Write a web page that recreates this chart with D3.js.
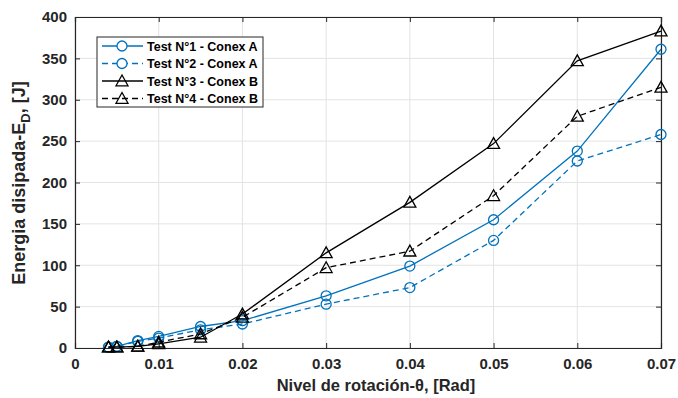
<!DOCTYPE html>
<html>
<head>
<meta charset="utf-8">
<script src="https://cdn.jsdelivr.net/npm/d3@7"></script>
<style>
  body { margin: 0; background: #fff; }
  text { font-family: "Liberation Sans", Arial, sans-serif; }
</style>
</head>
<body>
<div id="chart"></div>
<script>
// data
var rotacion = [0.004, 0.005, 0.0075, 0.01, 0.015, 0.02, 0.03, 0.04, 0.05, 0.06, 0.07];
var test1 = [1, 2, 9, 14, 26, 33, 63, 99, 155, 238, 361];
var test2 = [1, 2, 8, 12, 22, 29, 53, 73, 130, 226, 258];
var test3 = [1, 1, 2, 5, 13, 41, 115, 176, 247, 347, 383];
var test4 = [1, 1, 2, 7, 17, 37, 97, 117, 184, 280, 315];
var seriesNames = ["Test N°1 - Conex A", "Test N°2 - Conex A", "Test N°3 - Conex B", "Test N°4 - Conex B"];
var xTicks = [0, 0.01, 0.02, 0.03, 0.04, 0.05, 0.06, 0.07];
var yTicks = [0, 50, 100, 150, 200, 250, 300, 350, 400];

var width = 678, height = 398;
var margin = {top: 17, right: 17, bottom: 50, left: 75};
var w = width - margin.left - margin.right;
var h = height - margin.top - margin.bottom;

var blue = "#0072BD", black = "#000000";
var series = [
    {name: seriesNames[0], values: test1, color: blue, dash: null, marker: "circle"},
    {name: seriesNames[1], values: test2, color: blue, dash: "6,4", marker: "circle"},
    {name: seriesNames[2], values: test3, color: black, dash: null, marker: "triangle"},
    {name: seriesNames[3], values: test4, color: black, dash: "6,4", marker: "triangle"}
];

var svg = d3.select("#chart").append("svg")
    .attr("width", width)
    .attr("height", height);
var g = svg.append("g")
    .attr("transform", "translate(" + margin.left + "," + margin.top + ")");

var x = d3.scaleLinear().domain([0, 0.07]).range([0, w]);
var y = d3.scaleLinear().domain([0, 400]).range([h, 0]);

// grid
g.append("g").selectAll("line").data(xTicks).enter().append("line")
    .attr("x1", d => x(d)).attr("x2", d => x(d))
    .attr("y1", 0).attr("y2", h)
    .attr("stroke", "#e3e3e3").attr("stroke-width", 1);
g.append("g").selectAll("line").data(yTicks).enter().append("line")
    .attr("x1", 0).attr("x2", w)
    .attr("y1", d => y(d)).attr("y2", d => y(d))
    .attr("stroke", "#e3e3e3").attr("stroke-width", 1);

// axes (ticks inside like matlab)
var axCol = "#262626";
var xAxis = g.append("g").attr("transform", "translate(0," + h + ")")
    .call(d3.axisBottom(x).tickValues(xTicks).tickSize(-5).tickPadding(10)
        .tickFormat(d => d === 0 ? "0" : d3.format(".2f")(d)));
var xTop = g.append("g")
    .call(d3.axisTop(x).tickValues(xTicks).tickSize(-5).tickFormat(""));
var yAxis = g.append("g")
    .call(d3.axisLeft(y).tickValues(yTicks).tickSize(-5).tickPadding(8));
var yRight = g.append("g").attr("transform", "translate(" + w + ",0)")
    .call(d3.axisRight(y).tickValues(yTicks).tickSize(-5).tickFormat(""));

[xAxis, xTop, yAxis, yRight].forEach(function(a) {
    a.select(".domain").attr("stroke", axCol).attr("stroke-width", 1.2);
    a.selectAll(".tick line").attr("stroke", axCol);
    a.selectAll("text")
        .attr("fill", "#262626")
        .style("font-size", "15px")
        .style("font-weight", "bold")
        .style("font-family", "'Liberation Sans', Arial, sans-serif");
});

// lines
var line = d3.line()
    .x((d, i) => x(rotacion[i]))
    .y(d => y(d));

var triangle = function(cx, cy, s) {
    return "M" + cx + "," + (cy - s) + "L" + (cx + s) + "," + (cy + s * 0.8) +
        "L" + (cx - s) + "," + (cy + s * 0.8) + "Z";
};

series.forEach(function(s) {
    g.append("path")
        .datum(s.values)
        .attr("d", line)
        .attr("fill", "none")
        .attr("stroke", s.color)
        .attr("stroke-width", 1.3)
        .attr("stroke-dasharray", s.dash);

    var mk = g.append("g");
    if (s.marker === "circle") {
        mk.selectAll("circle").data(s.values).enter().append("circle")
            .attr("cx", (d, i) => x(rotacion[i]))
            .attr("cy", d => y(d))
            .attr("r", 5)
            .attr("fill", "none")
            .attr("stroke", s.color)
            .attr("stroke-width", 1.3);
    } else {
        mk.selectAll("path").data(s.values).enter().append("path")
            .attr("d", (d, i) => triangle(x(rotacion[i]), y(d), 6))
            .attr("fill", "none")
            .attr("stroke", s.color)
            .attr("stroke-width", 1.3);
    }
});

// legend
var leg = svg.append("g").attr("transform", "translate(97,37)");
leg.append("rect")
    .attr("width", 166).attr("height", 70)
    .attr("fill", "#fff")
    .attr("stroke", "#262626").attr("stroke-width", 1);
series.forEach(function(s, i) {
    var ly = 9 + i * 17.5;
    leg.append("line")
        .attr("x1", 5).attr("x2", 46)
        .attr("y1", ly).attr("y2", ly)
        .attr("stroke", s.color).attr("stroke-width", 1.3)
        .attr("stroke-dasharray", s.dash);
    if (s.marker === "circle") {
        leg.append("circle").attr("cx", 25).attr("cy", ly).attr("r", 5)
            .attr("fill", "#fff").attr("stroke", s.color).attr("stroke-width", 1.3);
    } else {
        leg.append("path").attr("d", triangle(25, ly, 6))
            .attr("fill", "none").attr("stroke", s.color).attr("stroke-width", 1.3);
    }
    leg.append("text")
        .attr("x", 50).attr("y", ly + 4.5)
        .style("font-size", "12.5px").style("font-weight", "bold")
        .attr("fill", "#000")
        .text(s.name);
});

// axis labels
svg.append("text")
    .attr("x", 376).attr("y", 391)
    .attr("text-anchor", "middle")
    .style("font-size", "16.5px").style("font-weight", "bold")
    .attr("fill", "#262626")
    .text("Nivel de rotación-θ, [Rad]");

var yl = svg.append("text")
    .attr("transform", "translate(25,183) rotate(-90)")
    .attr("text-anchor", "middle")
    .style("font-size", "18px").style("font-weight", "bold")
    .attr("fill", "#262626");
yl.append("tspan").text("Energia disipada-E");
yl.append("tspan").attr("dy", 5).style("font-size", "13px").text("D");
yl.append("tspan").attr("dy", -5).text(", [J]");
</script>
</body>
</html>
